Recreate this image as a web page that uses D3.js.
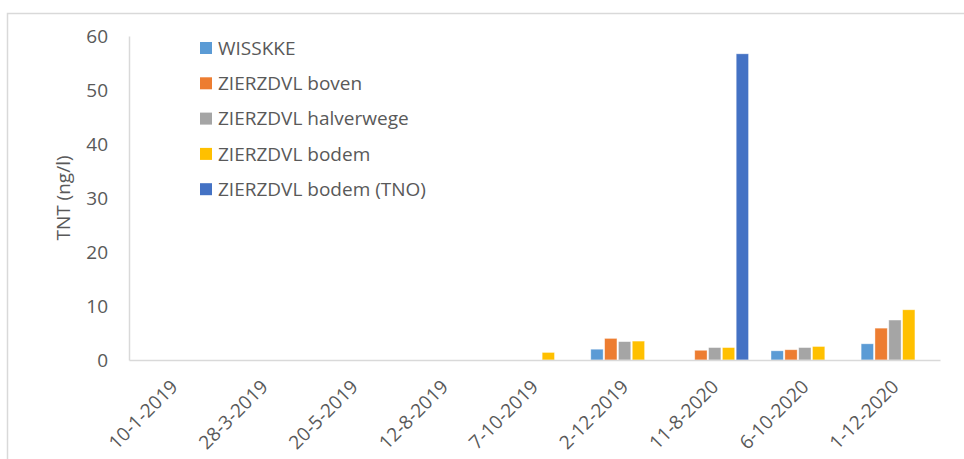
<!DOCTYPE html>
<html><head><meta charset="utf-8">
<script src="https://cdn.jsdelivr.net/npm/d3@7"></script>
<style>body{margin:0;background:#fff;} svg{display:block;}</style>
</head><body>
<svg id="chart" width="964" height="459"></svg>
<script>
const categories = ["10-1-2019","28-3-2019","20-5-2019","12-8-2019","7-10-2019","2-12-2019","11-8-2020","6-10-2020","1-12-2020"];
const seriesNames = ["WISSKKE","ZIERZDVL boven","ZIERZDVL halverwege","ZIERZDVL bodem","ZIERZDVL bodem (TNO)"];
const seriesColors = ["#5b9bd5","#ed7d31","#a5a5a5","#ffc000","#4472c4"];
const wisskke     = [null,null,null,null,null,2.0,null,1.7,3.0];
const boven       = [null,null,null,null,null,4.0,1.8,1.9,5.9];
const halverwege  = [null,null,null,null,null,3.4,2.3,2.3,7.4];
const bodem       = [null,null,null,null,1.4,3.5,2.3,2.5,9.3];
const bodemTNO    = [null,null,null,null,null,null,56.7,null,null];
const yTicks = [0,10,20,30,40,50,60];
const yTitle = "TNT (ng/l)";

const seriesValues = [wisskke, boven, halverwege, bodem, bodemTNO];
const font = "'Open Sans', sans-serif";
const fs = 19;
const svg = d3.select("#chart");

// chart border
svg.append("rect").attr("x",7.5).attr("y",13.5).attr("width",970).attr("height",470)
  .attr("fill","none").attr("stroke","#d9d9d9").attr("stroke-width",1.5);

const mLeft = 129, mRight = 940, mTop = 36, mBottom = 360;
const x0 = d3.scaleBand().domain(categories).range([mLeft,mRight]).paddingInner(0.233).paddingOuter(0.1165);
const x1 = d3.scaleBand().domain(d3.range(seriesNames.length)).range([0,x0.bandwidth()]).padding(0);
const y = d3.scaleLinear().domain([0,60]).range([mBottom,mTop]);

// bars
const g = svg.append("g");
seriesValues.forEach((vals,si)=>{
  g.selectAll(null).data(categories.map((c,i)=>({c,v:vals[i]})).filter(d=>d.v!=null))
    .enter().append("rect")
    .attr("x",d=>x0(d.c)+x1(si)+0.75)
    .attr("width",x1.bandwidth()-1.5)
    .attr("y",d=>y(d.v))
    .attr("height",d=>y(0)-y(d.v))
    .attr("fill",seriesColors[si])
    .attr("stroke","#fff").attr("stroke-opacity",0.5).attr("stroke-width",0.75);
});

// y axis
const yAxis = d3.axisLeft(y).tickValues(yTicks).tickSize(0).tickPadding(21);
const ya = svg.append("g").attr("transform",`translate(${mLeft},0)`).call(yAxis);
ya.select(".domain").attr("stroke","#d9d9d9").attr("stroke-width",1.5);
ya.selectAll("text").attr("font-family",font).attr("font-size",fs).attr("fill","#595959");

// x axis
const xAxis = d3.axisBottom(x0).tickSize(0).tickFormat(d=>d);
const xa = svg.append("g").attr("transform",`translate(0,${mBottom})`).call(xAxis);
xa.select(".domain").attr("stroke","#d9d9d9").attr("stroke-width",1.5);
xa.selectAll("text")
  .attr("font-family",font).attr("font-size",fs).attr("fill","#595959")
  .attr("text-anchor","end").attr("dy",null).attr("y",0)
  .attr("transform","translate(5,28) rotate(-45)");

// y title
svg.append("text").attr("transform",`translate(70,198) rotate(-90)`)
  .attr("text-anchor","middle").attr("font-family",font).attr("font-size",fs)
  .attr("fill","#595959").text(yTitle);

// legend
const lg = svg.append("g");
seriesNames.forEach((n,i)=>{
  const cy = 48 + i*35.3;
  lg.append("rect").attr("x",200).attr("y",cy-6).attr("width",12).attr("height",12).attr("fill",seriesColors[i]);
  lg.append("text").attr("x",218).attr("y",cy).attr("dy","0.35em")
    .attr("font-family",font).attr("font-size",fs).attr("fill","#595959").text(n);
});
</script>
</body></html>
